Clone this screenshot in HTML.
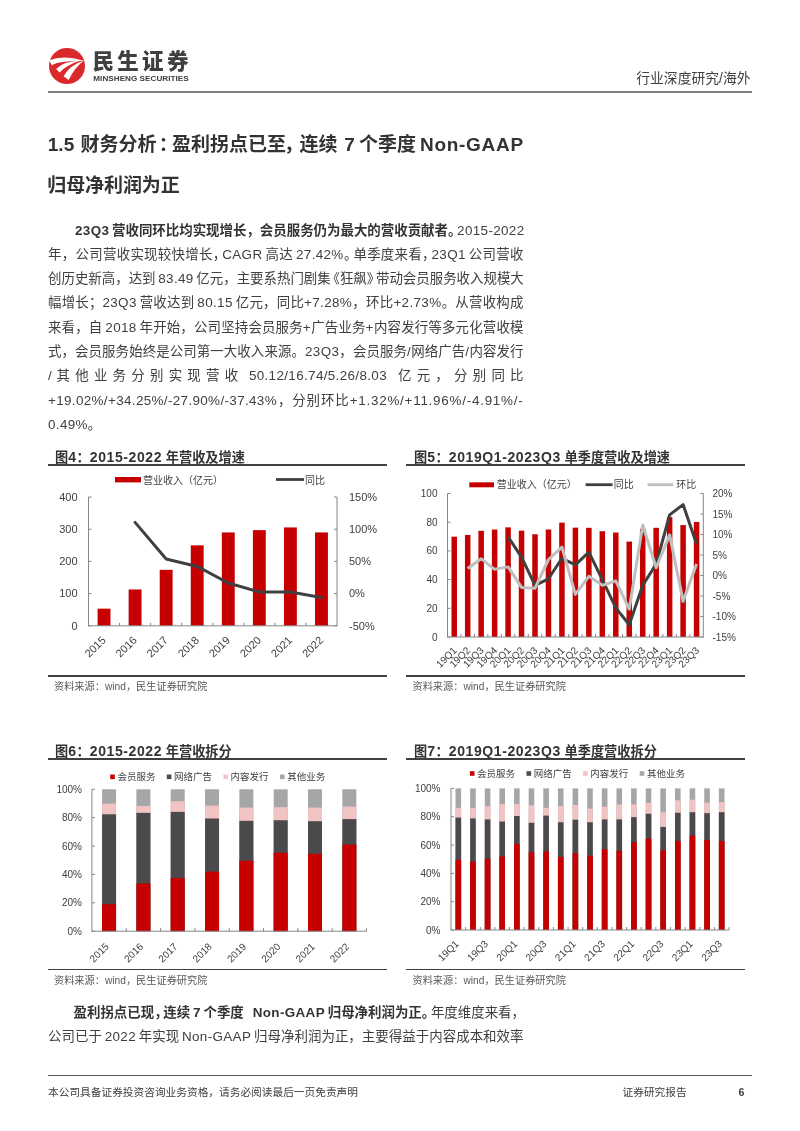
<!DOCTYPE html>
<html lang="zh-CN">
<head>
<meta charset="utf-8">
<title>民生证券 行业深度研究</title>
<style>
*{margin:0;padding:0;box-sizing:border-box}
html,body{width:800px;height:1131px;background:#fff;overflow:hidden}
body{position:relative;font-family:"Liberation Sans","Noto Sans CJK SC",sans-serif;color:#404040}
.abs{position:absolute;white-space:nowrap}
.hdr-line{position:absolute;left:48px;top:91px;width:704px;height:1.6px;background:#808080}
.brand{position:absolute;left:92.5px;top:52px;font-size:21.5px;font-weight:900;color:#404040;letter-spacing:3.3px;line-height:1}
.brand-en{position:absolute;left:93.3px;top:75px;font-size:8.1px;font-weight:bold;color:#3c3c3c;letter-spacing:0.05px;line-height:1}
.hdr-right{position:absolute;right:49.5px;top:71.5px;font-size:13.8px;color:#404040;line-height:1}
.h1{position:absolute;left:48.5px;font-size:19px;font-weight:bold;color:#333;line-height:1;white-space:nowrap}
.p{position:absolute;left:48px;width:475.5px;font-size:13.44px;line-height:1;word-spacing:-1px;color:#404040;text-align:justify;text-align-last:justify;white-space:nowrap}
.p.l{text-align:left;text-align-last:left}
.p b{font-weight:bold;color:#333}
.n{letter-spacing:0.35px}
.lq{margin-left:-4.3px}
.rq{margin-right:-4.3px}
.ft{position:absolute;font-size:13.2px;font-weight:bold;color:#333;line-height:1;white-space:nowrap}
.fn{letter-spacing:0.6px;font-size:14px}
.fl{position:absolute;height:1.6px;background:#404040}
.src{position:absolute;font-size:10.2px;color:#595959;line-height:1;white-space:nowrap}
.foot-line{position:absolute;left:48px;top:1074.6px;width:704px;height:1.4px;background:#595959}
.foot{position:absolute;top:1087px;font-size:10.7px;color:#404040;line-height:1;white-space:nowrap}
svg.charts{position:absolute;left:0;top:0}
.p,.h1,.ft,.src,.foot,.hdr-right,.brand,.brand-en{filter:grayscale(1)}
svg.charts text{font-family:"Liberation Sans","Noto Sans CJK SC",sans-serif;filter:grayscale(1)}
</style>
</head>
<body>
<!-- logo -->
<svg class="abs" style="left:49.3px;top:47.7px" width="36" height="36" viewBox="0 0 36 36">
<circle cx="18" cy="18" r="18" fill="#da282b"/>
<path d="M0.2,12.2 Q14.2,6.6 35.4,12.9 Q7,12.6 2.9,17.6 Z" fill="#fff"/>
<path d="M7,20.9 Q14.6,13.3 30.8,12.8 Q18.6,16.6 10.6,24.4 Z" fill="#fff"/>
<path d="M14.6,28.3 Q20.6,17.2 35,12.6 Q26.2,19 19.6,32 Z" fill="#fff"/>
</svg>
<div class="brand">民生证券</div>
<div class="brand-en">MINSHENG SECURITIES</div>
<div class="hdr-right">行业深度研究/海外</div>
<div class="hdr-line"></div>

<div class="h1" style="top:134.5px;left:47.8px">1.5</div>
<div class="h1" style="top:134.5px;left:80.5px">财务分析</div>
<div class="h1" style="top:134.5px;left:158.7px">：</div>
<div class="h1" style="top:134.5px;left:171.9px">盈利拐点已至</div>
<div class="h1" style="top:134.5px;left:284px">，</div>
<div class="h1" style="top:134.5px;left:299.5px">连续</div>
<div class="h1" style="top:134.5px;left:344.2px">7</div>
<div class="h1" style="top:134.5px;left:359px">个季度</div>
<div class="h1" style="top:134.5px;left:420px"><span style="letter-spacing:0.7px">Non-GAAP</span></div>
<div class="h1" style="top:175.5px;left:47.3px;letter-spacing:-0.1px">归母净利润为正</div>

<div class="p" style="top:223.50px;left:75px;width:448.5px"><b><span class="n">23Q3</span> 营收同环比均实现增长，会员服务仍为最大的营收贡献者<span class="rq">。</span></b><span class="n">2015-2022</span></div>
<div class="p" style="top:247.80px;left:48px;width:475.5px">年，公司营收实现较快增长<span class="rq">，</span><span class="n">CAGR</span> 高达 <span class="n">27.42%</span><span class="rq">。</span>单季度来看<span class="rq">，</span><span class="n">23Q1</span> 公司营收</div>
<div class="p" style="top:272.10px;left:48px;width:475.5px">创历史新高，达到 <span class="n">83.49</span> 亿元，主要系热门剧集<span class="lq">《</span>狂飙<span class="rq">》</span>带动会员服务收入规模大</div>
<div class="p" style="top:296.40px;left:48px;width:475.5px">幅增长；<span class="n">23Q3</span> 营收达到 <span class="n">80.15</span> 亿元，同比<span class="n">+7.28%</span>，环比<span class="n">+2.73%</span>。从营收构成</div>
<div class="p" style="top:320.70px;left:48px;width:475.5px">来看，自 <span class="n">2018</span> 年开始，公司坚持会员服务<span class="n">+</span>广告业务<span class="n">+</span>内容发行等多元化营收模</div>
<div class="p" style="top:345.00px;left:48px;width:475.5px">式，会员服务始终是公司第一大收入来源。<span class="n">23Q3</span>，会员服务<span class="n">/</span>网络广告<span class="n">/</span>内容发行</div>
<div class="p" style="top:369.30px;left:48px;width:475.5px"><span class="n">/</span><span style="margin-left:-3.5px"> </span>其他业务分别实现营收<span style="margin-left:-2.5px"> </span><span class="n">50.12/16.74/5.26/8.03</span><span style="margin-right:3px"> </span>亿元，分别同比</div>
<div class="p" style="top:393.60px;left:48px;width:475.5px"><span class="n">+19.02%/+34.25%/-27.90%/-37.43%</span>，分别环比<span class="n" style="letter-spacing:0.75px">+1.32%/+11.96%/-4.91%/-</span></div>
<div class="p l" style="top:417.90px;left:48px;width:475.5px"><span class="n">0.49%</span>。</div>

<!-- figure titles -->
<div class="ft" style="left:55px;top:450.2px">图<span class="fn">4</span>：<span class="fn">2015-2022</span> 年营收及增速</div>
<div class="ft" style="left:414px;top:450.2px">图<span class="fn">5</span>：<span class="fn">2019Q1-2023Q3</span> 单季度营收及增速</div>
<div class="fl" style="left:48px;top:464.2px;width:339px"></div>
<div class="fl" style="left:406px;top:464.2px;width:339px"></div>
<div class="fl" style="left:48px;top:675px;width:339px"></div>
<div class="fl" style="left:406px;top:675px;width:339px"></div>
<div class="src" style="left:54px;top:681.7px">资料来源：wind，民生证券研究院</div>
<div class="src" style="left:412.5px;top:681.7px">资料来源：wind，民生证券研究院</div>

<div class="ft" style="left:55px;top:744px">图<span class="fn">6</span>：<span class="fn">2015-2022</span> 年营收拆分</div>
<div class="ft" style="left:414px;top:744px">图<span class="fn">7</span>：<span class="fn">2019Q1-2023Q3</span> 单季度营收拆分</div>
<div class="fl" style="left:48px;top:758px;width:339px"></div>
<div class="fl" style="left:406px;top:758px;width:339px"></div>
<div class="fl" style="left:48px;top:968.6px;width:339px"></div>
<div class="fl" style="left:406px;top:968.6px;width:339px"></div>
<div class="src" style="left:54px;top:975.7px">资料来源：wind，民生证券研究院</div>
<div class="src" style="left:412.5px;top:975.7px">资料来源：wind，民生证券研究院</div>

<svg class="charts" width="800" height="1131" viewBox="0 0 800 1131">
<rect x="97.58" y="608.67" width="12.9" height="17.13" fill="#c60000"/>
<rect x="128.64" y="589.48" width="12.9" height="36.32" fill="#c60000"/>
<rect x="159.71" y="569.84" width="12.9" height="55.96" fill="#c60000"/>
<rect x="190.77" y="545.33" width="12.9" height="80.47" fill="#c60000"/>
<rect x="221.83" y="532.45" width="12.9" height="93.35" fill="#c60000"/>
<rect x="252.89" y="530.13" width="12.9" height="95.67" fill="#c60000"/>
<rect x="283.96" y="527.43" width="12.9" height="98.37" fill="#c60000"/>
<rect x="315.02" y="532.42" width="12.9" height="93.38" fill="#c60000"/>
<path d="M135.09,522.37 L166.16,559.02 L197.22,566.42 L228.28,582.97 L259.34,591.99 L290.41,591.99 L321.47,597.46" fill="none" stroke="#404040" stroke-width="3" stroke-linejoin="round" stroke-linecap="round"/>
<line x1="88.5" y1="497" x2="88.5" y2="626.3" stroke="#868686" stroke-width="1"/>
<line x1="337" y1="497" x2="337" y2="626.3" stroke="#868686" stroke-width="1"/>
<line x1="88.5" y1="625.8" x2="337" y2="625.8" stroke="#868686" stroke-width="1"/>
<line x1="88.5" y1="497" x2="91.5" y2="497" stroke="#868686" stroke-width="1"/>
<line x1="334" y1="497" x2="337" y2="497" stroke="#868686" stroke-width="1"/>
<text x="77.5" y="500.8" font-size="11" fill="#404040" text-anchor="end" font-weight="normal" >400</text>
<text x="349" y="500.8" font-size="11" fill="#404040" text-anchor="start" font-weight="normal" >150%</text>
<line x1="88.5" y1="529.2" x2="91.5" y2="529.2" stroke="#868686" stroke-width="1"/>
<line x1="334" y1="529.2" x2="337" y2="529.2" stroke="#868686" stroke-width="1"/>
<text x="77.5" y="533" font-size="11" fill="#404040" text-anchor="end" font-weight="normal" >300</text>
<text x="349" y="533" font-size="11" fill="#404040" text-anchor="start" font-weight="normal" >100%</text>
<line x1="88.5" y1="561.4" x2="91.5" y2="561.4" stroke="#868686" stroke-width="1"/>
<line x1="334" y1="561.4" x2="337" y2="561.4" stroke="#868686" stroke-width="1"/>
<text x="77.5" y="565.2" font-size="11" fill="#404040" text-anchor="end" font-weight="normal" >200</text>
<text x="349" y="565.2" font-size="11" fill="#404040" text-anchor="start" font-weight="normal" >50%</text>
<line x1="88.5" y1="593.6" x2="91.5" y2="593.6" stroke="#868686" stroke-width="1"/>
<line x1="334" y1="593.6" x2="337" y2="593.6" stroke="#868686" stroke-width="1"/>
<text x="77.5" y="597.4" font-size="11" fill="#404040" text-anchor="end" font-weight="normal" >100</text>
<text x="349" y="597.4" font-size="11" fill="#404040" text-anchor="start" font-weight="normal" >0%</text>
<line x1="88.5" y1="625.8" x2="91.5" y2="625.8" stroke="#868686" stroke-width="1"/>
<line x1="334" y1="625.8" x2="337" y2="625.8" stroke="#868686" stroke-width="1"/>
<text x="77.5" y="629.6" font-size="11" fill="#404040" text-anchor="end" font-weight="normal" >0</text>
<text x="349" y="629.6" font-size="11" fill="#404040" text-anchor="start" font-weight="normal" >-50%</text>
<line x1="119.56" y1="622.8" x2="119.56" y2="625.8" stroke="#868686" stroke-width="1"/>
<line x1="150.62" y1="622.8" x2="150.62" y2="625.8" stroke="#868686" stroke-width="1"/>
<line x1="181.69" y1="622.8" x2="181.69" y2="625.8" stroke="#868686" stroke-width="1"/>
<line x1="212.75" y1="622.8" x2="212.75" y2="625.8" stroke="#868686" stroke-width="1"/>
<line x1="243.81" y1="622.8" x2="243.81" y2="625.8" stroke="#868686" stroke-width="1"/>
<line x1="274.88" y1="622.8" x2="274.88" y2="625.8" stroke="#868686" stroke-width="1"/>
<line x1="305.94" y1="622.8" x2="305.94" y2="625.8" stroke="#868686" stroke-width="1"/>
<text x="0" y="0" font-size="11" fill="#404040" text-anchor="end" transform="translate(106.53,640.8) rotate(-45)">2015</text>
<text x="0" y="0" font-size="11" fill="#404040" text-anchor="end" transform="translate(137.59,640.8) rotate(-45)">2016</text>
<text x="0" y="0" font-size="11" fill="#404040" text-anchor="end" transform="translate(168.66,640.8) rotate(-45)">2017</text>
<text x="0" y="0" font-size="11" fill="#404040" text-anchor="end" transform="translate(199.72,640.8) rotate(-45)">2018</text>
<text x="0" y="0" font-size="11" fill="#404040" text-anchor="end" transform="translate(230.78,640.8) rotate(-45)">2019</text>
<text x="0" y="0" font-size="11" fill="#404040" text-anchor="end" transform="translate(261.84,640.8) rotate(-45)">2020</text>
<text x="0" y="0" font-size="11" fill="#404040" text-anchor="end" transform="translate(292.91,640.8) rotate(-45)">2021</text>
<text x="0" y="0" font-size="11" fill="#404040" text-anchor="end" transform="translate(323.97,640.8) rotate(-45)">2022</text>
<rect x="115" y="477" width="26" height="5.4" fill="#c60000"/>
<text x="143" y="483.8" font-size="10" fill="#404040" text-anchor="start" font-weight="normal" >营业收入（亿元）</text>
<line x1="276" y1="479.5" x2="304" y2="479.5" stroke="#404040" stroke-width="2.8"/>
<text x="305" y="483.8" font-size="10" fill="#404040" text-anchor="start" font-weight="normal" >同比</text>
<rect x="451.48" y="536.69" width="5.5" height="100.31" fill="#c60000"/>
<rect x="464.94" y="534.97" width="5.5" height="102.03" fill="#c60000"/>
<rect x="478.41" y="530.81" width="5.5" height="106.19" fill="#c60000"/>
<rect x="491.87" y="529.52" width="5.5" height="107.48" fill="#c60000"/>
<rect x="505.33" y="527.37" width="5.5" height="109.63" fill="#c60000"/>
<rect x="518.8" y="530.67" width="5.5" height="106.33" fill="#c60000"/>
<rect x="532.26" y="534.25" width="5.5" height="102.75" fill="#c60000"/>
<rect x="545.72" y="529.52" width="5.5" height="107.48" fill="#c60000"/>
<rect x="559.19" y="522.63" width="5.5" height="114.37" fill="#c60000"/>
<rect x="572.65" y="527.65" width="5.5" height="109.35" fill="#c60000"/>
<rect x="586.11" y="527.8" width="5.5" height="109.2" fill="#c60000"/>
<rect x="599.58" y="531.24" width="5.5" height="105.76" fill="#c60000"/>
<rect x="613.04" y="532.53" width="5.5" height="104.47" fill="#c60000"/>
<rect x="626.5" y="541.57" width="5.5" height="95.43" fill="#c60000"/>
<rect x="639.97" y="528.8" width="5.5" height="108.2" fill="#c60000"/>
<rect x="653.43" y="527.8" width="5.5" height="109.2" fill="#c60000"/>
<rect x="666.89" y="517.18" width="5.5" height="119.82" fill="#c60000"/>
<rect x="680.36" y="525.07" width="5.5" height="111.93" fill="#c60000"/>
<rect x="693.82" y="521.91" width="5.5" height="115.09" fill="#c60000"/>
<path d="M508.08,536.96 L521.55,557.05 L535.01,585.34 L548.47,578.78 L561.94,558.28 L575.4,564.84 L588.86,552.13 L602.33,579.6 L615.79,607.89 L629.25,624.7 L642.72,585.34 L656.18,564.02 L669.64,514.82 L683.11,504.57 L696.57,543.93" fill="none" stroke="#404040" stroke-width="3" stroke-linejoin="round"/>
<path d="M467.69,568.53 L481.16,558.69 L494.62,569.35 L508.08,566.89 L521.55,587.39 L535.01,588.21 L548.47,559.51 L561.94,547.21 L575.4,594.36 L588.86,576.32 L602.33,585.34 L615.79,580.83 L629.25,609.12 L642.72,525.07 L656.18,567.71 L669.64,534.91 L683.11,601.33 L696.57,564.02" fill="none" stroke="#bfbfbf" stroke-width="3" stroke-linejoin="round"/>
<line x1="447.5" y1="493.5" x2="447.5" y2="637.5" stroke="#868686" stroke-width="1"/>
<line x1="703.3" y1="493.5" x2="703.3" y2="637.5" stroke="#868686" stroke-width="1"/>
<line x1="447.5" y1="637" x2="703.3" y2="637" stroke="#868686" stroke-width="1"/>
<line x1="447.5" y1="493.5" x2="450.5" y2="493.5" stroke="#868686" stroke-width="1"/>
<text x="437.5" y="497" font-size="10" fill="#404040" text-anchor="end" font-weight="normal" >100</text>
<line x1="447.5" y1="522.2" x2="450.5" y2="522.2" stroke="#868686" stroke-width="1"/>
<text x="437.5" y="525.7" font-size="10" fill="#404040" text-anchor="end" font-weight="normal" >80</text>
<line x1="447.5" y1="550.9" x2="450.5" y2="550.9" stroke="#868686" stroke-width="1"/>
<text x="437.5" y="554.4" font-size="10" fill="#404040" text-anchor="end" font-weight="normal" >60</text>
<line x1="447.5" y1="579.6" x2="450.5" y2="579.6" stroke="#868686" stroke-width="1"/>
<text x="437.5" y="583.1" font-size="10" fill="#404040" text-anchor="end" font-weight="normal" >40</text>
<line x1="447.5" y1="608.3" x2="450.5" y2="608.3" stroke="#868686" stroke-width="1"/>
<text x="437.5" y="611.8" font-size="10" fill="#404040" text-anchor="end" font-weight="normal" >20</text>
<line x1="447.5" y1="637" x2="450.5" y2="637" stroke="#868686" stroke-width="1"/>
<text x="437.5" y="640.5" font-size="10" fill="#404040" text-anchor="end" font-weight="normal" >0</text>
<line x1="700.3" y1="493.5" x2="703.3" y2="493.5" stroke="#868686" stroke-width="1"/>
<text x="712.5" y="497" font-size="10" fill="#404040" text-anchor="start" font-weight="normal" >20%</text>
<line x1="700.3" y1="514" x2="703.3" y2="514" stroke="#868686" stroke-width="1"/>
<text x="712.5" y="517.5" font-size="10" fill="#404040" text-anchor="start" font-weight="normal" >15%</text>
<line x1="700.3" y1="534.5" x2="703.3" y2="534.5" stroke="#868686" stroke-width="1"/>
<text x="712.5" y="538" font-size="10" fill="#404040" text-anchor="start" font-weight="normal" >10%</text>
<line x1="700.3" y1="555" x2="703.3" y2="555" stroke="#868686" stroke-width="1"/>
<text x="712.5" y="558.5" font-size="10" fill="#404040" text-anchor="start" font-weight="normal" >5%</text>
<line x1="700.3" y1="575.5" x2="703.3" y2="575.5" stroke="#868686" stroke-width="1"/>
<text x="712.5" y="579" font-size="10" fill="#404040" text-anchor="start" font-weight="normal" >0%</text>
<line x1="700.3" y1="596" x2="703.3" y2="596" stroke="#868686" stroke-width="1"/>
<text x="712.5" y="599.5" font-size="10" fill="#404040" text-anchor="start" font-weight="normal" >-5%</text>
<line x1="700.3" y1="616.5" x2="703.3" y2="616.5" stroke="#868686" stroke-width="1"/>
<text x="712.5" y="620" font-size="10" fill="#404040" text-anchor="start" font-weight="normal" >-10%</text>
<line x1="700.3" y1="637" x2="703.3" y2="637" stroke="#868686" stroke-width="1"/>
<text x="712.5" y="640.5" font-size="10" fill="#404040" text-anchor="start" font-weight="normal" >-15%</text>
<line x1="460.96" y1="634" x2="460.96" y2="637" stroke="#868686" stroke-width="1"/>
<line x1="474.43" y1="634" x2="474.43" y2="637" stroke="#868686" stroke-width="1"/>
<line x1="487.89" y1="634" x2="487.89" y2="637" stroke="#868686" stroke-width="1"/>
<line x1="501.35" y1="634" x2="501.35" y2="637" stroke="#868686" stroke-width="1"/>
<line x1="514.82" y1="634" x2="514.82" y2="637" stroke="#868686" stroke-width="1"/>
<line x1="528.28" y1="634" x2="528.28" y2="637" stroke="#868686" stroke-width="1"/>
<line x1="541.74" y1="634" x2="541.74" y2="637" stroke="#868686" stroke-width="1"/>
<line x1="555.21" y1="634" x2="555.21" y2="637" stroke="#868686" stroke-width="1"/>
<line x1="568.67" y1="634" x2="568.67" y2="637" stroke="#868686" stroke-width="1"/>
<line x1="582.13" y1="634" x2="582.13" y2="637" stroke="#868686" stroke-width="1"/>
<line x1="595.59" y1="634" x2="595.59" y2="637" stroke="#868686" stroke-width="1"/>
<line x1="609.06" y1="634" x2="609.06" y2="637" stroke="#868686" stroke-width="1"/>
<line x1="622.52" y1="634" x2="622.52" y2="637" stroke="#868686" stroke-width="1"/>
<line x1="635.98" y1="634" x2="635.98" y2="637" stroke="#868686" stroke-width="1"/>
<line x1="649.45" y1="634" x2="649.45" y2="637" stroke="#868686" stroke-width="1"/>
<line x1="662.91" y1="634" x2="662.91" y2="637" stroke="#868686" stroke-width="1"/>
<line x1="676.37" y1="634" x2="676.37" y2="637" stroke="#868686" stroke-width="1"/>
<line x1="689.84" y1="634" x2="689.84" y2="637" stroke="#868686" stroke-width="1"/>
<text x="0" y="0" font-size="10" fill="#404040" text-anchor="end" transform="translate(457.53,651) rotate(-45)">19Q1</text>
<text x="0" y="0" font-size="10" fill="#404040" text-anchor="end" transform="translate(470.99,651) rotate(-45)">19Q2</text>
<text x="0" y="0" font-size="10" fill="#404040" text-anchor="end" transform="translate(484.46,651) rotate(-45)">19Q3</text>
<text x="0" y="0" font-size="10" fill="#404040" text-anchor="end" transform="translate(497.92,651) rotate(-45)">19Q4</text>
<text x="0" y="0" font-size="10" fill="#404040" text-anchor="end" transform="translate(511.38,651) rotate(-45)">20Q1</text>
<text x="0" y="0" font-size="10" fill="#404040" text-anchor="end" transform="translate(524.85,651) rotate(-45)">20Q2</text>
<text x="0" y="0" font-size="10" fill="#404040" text-anchor="end" transform="translate(538.31,651) rotate(-45)">20Q3</text>
<text x="0" y="0" font-size="10" fill="#404040" text-anchor="end" transform="translate(551.77,651) rotate(-45)">20Q4</text>
<text x="0" y="0" font-size="10" fill="#404040" text-anchor="end" transform="translate(565.24,651) rotate(-45)">21Q1</text>
<text x="0" y="0" font-size="10" fill="#404040" text-anchor="end" transform="translate(578.7,651) rotate(-45)">21Q2</text>
<text x="0" y="0" font-size="10" fill="#404040" text-anchor="end" transform="translate(592.16,651) rotate(-45)">21Q3</text>
<text x="0" y="0" font-size="10" fill="#404040" text-anchor="end" transform="translate(605.63,651) rotate(-45)">21Q4</text>
<text x="0" y="0" font-size="10" fill="#404040" text-anchor="end" transform="translate(619.09,651) rotate(-45)">22Q1</text>
<text x="0" y="0" font-size="10" fill="#404040" text-anchor="end" transform="translate(632.55,651) rotate(-45)">22Q2</text>
<text x="0" y="0" font-size="10" fill="#404040" text-anchor="end" transform="translate(646.02,651) rotate(-45)">22Q3</text>
<text x="0" y="0" font-size="10" fill="#404040" text-anchor="end" transform="translate(659.48,651) rotate(-45)">22Q4</text>
<text x="0" y="0" font-size="10" fill="#404040" text-anchor="end" transform="translate(672.94,651) rotate(-45)">23Q1</text>
<text x="0" y="0" font-size="10" fill="#404040" text-anchor="end" transform="translate(686.41,651) rotate(-45)">23Q2</text>
<text x="0" y="0" font-size="10" fill="#404040" text-anchor="end" transform="translate(699.87,651) rotate(-45)">23Q3</text>
<rect x="469.3" y="482.3" width="24.7" height="5" fill="#c60000"/>
<text x="496.7" y="487.9" font-size="10" fill="#404040" text-anchor="start" font-weight="normal" >营业收入（亿元）</text>
<line x1="585.6" y1="484.7" x2="612.6" y2="484.7" stroke="#404040" stroke-width="2.8"/>
<text x="613.7" y="487.9" font-size="10" fill="#404040" text-anchor="start" font-weight="normal" >同比</text>
<line x1="647.5" y1="484.7" x2="673.4" y2="484.7" stroke="#bfbfbf" stroke-width="2.8"/>
<text x="676.3" y="487.9" font-size="10" fill="#404040" text-anchor="start" font-weight="normal" >环比</text>
<rect x="102.06" y="789.3" width="14" height="141.9" fill="#a6a6a6"/>
<rect x="102.06" y="803.63" width="14" height="127.57" fill="#f1c3c3"/>
<rect x="102.06" y="814.27" width="14" height="116.93" fill="#4a4a4c"/>
<rect x="102.06" y="904.24" width="14" height="26.96" fill="#c60000"/>
<rect x="136.39" y="789.3" width="14" height="141.9" fill="#a6a6a6"/>
<rect x="136.39" y="805.9" width="14" height="125.3" fill="#f1c3c3"/>
<rect x="136.39" y="812.86" width="14" height="118.34" fill="#4a4a4c"/>
<rect x="136.39" y="883.38" width="14" height="47.82" fill="#c60000"/>
<rect x="170.71" y="789.3" width="14" height="141.9" fill="#a6a6a6"/>
<rect x="170.71" y="801.22" width="14" height="129.98" fill="#f1c3c3"/>
<rect x="170.71" y="811.86" width="14" height="119.34" fill="#4a4a4c"/>
<rect x="170.71" y="877.99" width="14" height="53.21" fill="#c60000"/>
<rect x="205.04" y="789.3" width="14" height="141.9" fill="#a6a6a6"/>
<rect x="205.04" y="805.62" width="14" height="125.58" fill="#f1c3c3"/>
<rect x="205.04" y="818.53" width="14" height="112.67" fill="#4a4a4c"/>
<rect x="205.04" y="871.6" width="14" height="59.6" fill="#c60000"/>
<rect x="239.36" y="789.3" width="14" height="141.9" fill="#a6a6a6"/>
<rect x="239.36" y="807.61" width="14" height="123.59" fill="#f1c3c3"/>
<rect x="239.36" y="820.8" width="14" height="110.4" fill="#4a4a4c"/>
<rect x="239.36" y="860.68" width="14" height="70.52" fill="#c60000"/>
<rect x="273.69" y="789.3" width="14" height="141.9" fill="#a6a6a6"/>
<rect x="273.69" y="807.18" width="14" height="124.02" fill="#f1c3c3"/>
<rect x="273.69" y="820.23" width="14" height="110.97" fill="#4a4a4c"/>
<rect x="273.69" y="852.73" width="14" height="78.47" fill="#c60000"/>
<rect x="308.01" y="789.3" width="14" height="141.9" fill="#a6a6a6"/>
<rect x="308.01" y="807.61" width="14" height="123.59" fill="#f1c3c3"/>
<rect x="308.01" y="821.23" width="14" height="109.97" fill="#4a4a4c"/>
<rect x="308.01" y="853.72" width="14" height="77.48" fill="#c60000"/>
<rect x="342.34" y="789.3" width="14" height="141.9" fill="#a6a6a6"/>
<rect x="342.34" y="806.61" width="14" height="124.59" fill="#f1c3c3"/>
<rect x="342.34" y="819.1" width="14" height="112.1" fill="#4a4a4c"/>
<rect x="342.34" y="844.5" width="14" height="86.7" fill="#c60000"/>
<line x1="91.9" y1="789.3" x2="91.9" y2="931.7" stroke="#868686" stroke-width="1"/>
<line x1="91.9" y1="931.2" x2="366.5" y2="931.2" stroke="#868686" stroke-width="1"/>
<line x1="91.9" y1="789.3" x2="94.9" y2="789.3" stroke="#868686" stroke-width="1"/>
<text x="82" y="792.9" font-size="10" fill="#404040" text-anchor="end" font-weight="normal" >100%</text>
<line x1="91.9" y1="817.68" x2="94.9" y2="817.68" stroke="#868686" stroke-width="1"/>
<text x="82" y="821.28" font-size="10" fill="#404040" text-anchor="end" font-weight="normal" >80%</text>
<line x1="91.9" y1="846.06" x2="94.9" y2="846.06" stroke="#868686" stroke-width="1"/>
<text x="82" y="849.66" font-size="10" fill="#404040" text-anchor="end" font-weight="normal" >60%</text>
<line x1="91.9" y1="874.44" x2="94.9" y2="874.44" stroke="#868686" stroke-width="1"/>
<text x="82" y="878.04" font-size="10" fill="#404040" text-anchor="end" font-weight="normal" >40%</text>
<line x1="91.9" y1="902.82" x2="94.9" y2="902.82" stroke="#868686" stroke-width="1"/>
<text x="82" y="906.42" font-size="10" fill="#404040" text-anchor="end" font-weight="normal" >20%</text>
<line x1="91.9" y1="931.2" x2="94.9" y2="931.2" stroke="#868686" stroke-width="1"/>
<text x="82" y="934.8" font-size="10" fill="#404040" text-anchor="end" font-weight="normal" >0%</text>
<line x1="126.23" y1="928.2" x2="126.23" y2="931.2" stroke="#868686" stroke-width="1"/>
<line x1="160.55" y1="928.2" x2="160.55" y2="931.2" stroke="#868686" stroke-width="1"/>
<line x1="194.88" y1="928.2" x2="194.88" y2="931.2" stroke="#868686" stroke-width="1"/>
<line x1="229.2" y1="928.2" x2="229.2" y2="931.2" stroke="#868686" stroke-width="1"/>
<line x1="263.52" y1="928.2" x2="263.52" y2="931.2" stroke="#868686" stroke-width="1"/>
<line x1="297.85" y1="928.2" x2="297.85" y2="931.2" stroke="#868686" stroke-width="1"/>
<line x1="332.18" y1="928.2" x2="332.18" y2="931.2" stroke="#868686" stroke-width="1"/>
<line x1="366.5" y1="928.2" x2="366.5" y2="931.2" stroke="#868686" stroke-width="1"/>
<text x="0" y="0" font-size="10" fill="#404040" text-anchor="end" transform="translate(109.56,947.2) rotate(-45)">2015</text>
<text x="0" y="0" font-size="10" fill="#404040" text-anchor="end" transform="translate(143.89,947.2) rotate(-45)">2016</text>
<text x="0" y="0" font-size="10" fill="#404040" text-anchor="end" transform="translate(178.21,947.2) rotate(-45)">2017</text>
<text x="0" y="0" font-size="10" fill="#404040" text-anchor="end" transform="translate(212.54,947.2) rotate(-45)">2018</text>
<text x="0" y="0" font-size="10" fill="#404040" text-anchor="end" transform="translate(246.86,947.2) rotate(-45)">2019</text>
<text x="0" y="0" font-size="10" fill="#404040" text-anchor="end" transform="translate(281.19,947.2) rotate(-45)">2020</text>
<text x="0" y="0" font-size="10" fill="#404040" text-anchor="end" transform="translate(315.51,947.2) rotate(-45)">2021</text>
<text x="0" y="0" font-size="10" fill="#404040" text-anchor="end" transform="translate(349.84,947.2) rotate(-45)">2022</text>
<rect x="110.2" y="774.5" width="4.6" height="4.6" fill="#c60000"/>
<text x="117.4" y="780.2" font-size="9.5" fill="#404040" text-anchor="start" font-weight="normal" >会员服务</text>
<rect x="166.8" y="774.5" width="4.6" height="4.6" fill="#4a4a4c"/>
<text x="174" y="780.2" font-size="9.5" fill="#404040" text-anchor="start" font-weight="normal" >网络广告</text>
<rect x="223.4" y="774.5" width="4.6" height="4.6" fill="#f1c3c3"/>
<text x="230.6" y="780.2" font-size="9.5" fill="#404040" text-anchor="start" font-weight="normal" >内容发行</text>
<rect x="280" y="774.5" width="4.6" height="4.6" fill="#a6a6a6"/>
<text x="287.2" y="780.2" font-size="9.5" fill="#404040" text-anchor="start" font-weight="normal" >其他业务</text>
<rect x="455.52" y="788.4" width="5.6" height="141.6" fill="#a6a6a6"/>
<rect x="455.52" y="807.8" width="5.6" height="122.2" fill="#f1c3c3"/>
<rect x="455.52" y="817.57" width="5.6" height="112.43" fill="#4a4a4c"/>
<rect x="455.52" y="859.77" width="5.6" height="70.23" fill="#c60000"/>
<rect x="470.15" y="788.4" width="5.6" height="141.6" fill="#a6a6a6"/>
<rect x="470.15" y="807.8" width="5.6" height="122.2" fill="#f1c3c3"/>
<rect x="470.15" y="818.42" width="5.6" height="111.58" fill="#4a4a4c"/>
<rect x="470.15" y="861.61" width="5.6" height="68.39" fill="#c60000"/>
<rect x="484.78" y="788.4" width="5.6" height="141.6" fill="#a6a6a6"/>
<rect x="484.78" y="806.24" width="5.6" height="123.76" fill="#f1c3c3"/>
<rect x="484.78" y="819.41" width="5.6" height="110.59" fill="#4a4a4c"/>
<rect x="484.78" y="858.78" width="5.6" height="71.22" fill="#c60000"/>
<rect x="499.41" y="788.4" width="5.6" height="141.6" fill="#a6a6a6"/>
<rect x="499.41" y="803.98" width="5.6" height="126.02" fill="#f1c3c3"/>
<rect x="499.41" y="821.53" width="5.6" height="108.47" fill="#4a4a4c"/>
<rect x="499.41" y="856.51" width="5.6" height="73.49" fill="#c60000"/>
<rect x="514.04" y="788.4" width="5.6" height="141.6" fill="#a6a6a6"/>
<rect x="514.04" y="803.98" width="5.6" height="126.02" fill="#f1c3c3"/>
<rect x="514.04" y="816.01" width="5.6" height="113.99" fill="#4a4a4c"/>
<rect x="514.04" y="843.77" width="5.6" height="86.23" fill="#c60000"/>
<rect x="528.67" y="788.4" width="5.6" height="141.6" fill="#a6a6a6"/>
<rect x="528.67" y="805.25" width="5.6" height="124.75" fill="#f1c3c3"/>
<rect x="528.67" y="822.81" width="5.6" height="107.19" fill="#4a4a4c"/>
<rect x="528.67" y="852.26" width="5.6" height="77.74" fill="#c60000"/>
<rect x="543.31" y="788.4" width="5.6" height="141.6" fill="#a6a6a6"/>
<rect x="543.31" y="807.8" width="5.6" height="122.2" fill="#f1c3c3"/>
<rect x="543.31" y="815.59" width="5.6" height="114.41" fill="#4a4a4c"/>
<rect x="543.31" y="851.27" width="5.6" height="78.73" fill="#c60000"/>
<rect x="557.94" y="788.4" width="5.6" height="141.6" fill="#a6a6a6"/>
<rect x="557.94" y="805.96" width="5.6" height="124.04" fill="#f1c3c3"/>
<rect x="557.94" y="822.24" width="5.6" height="107.76" fill="#4a4a4c"/>
<rect x="557.94" y="856.93" width="5.6" height="73.07" fill="#c60000"/>
<rect x="572.57" y="788.4" width="5.6" height="141.6" fill="#a6a6a6"/>
<rect x="572.57" y="804.97" width="5.6" height="125.03" fill="#f1c3c3"/>
<rect x="572.57" y="819.69" width="5.6" height="110.31" fill="#4a4a4c"/>
<rect x="572.57" y="853.11" width="5.6" height="76.89" fill="#c60000"/>
<rect x="587.2" y="788.4" width="5.6" height="141.6" fill="#a6a6a6"/>
<rect x="587.2" y="808.65" width="5.6" height="121.35" fill="#f1c3c3"/>
<rect x="587.2" y="822.24" width="5.6" height="107.76" fill="#4a4a4c"/>
<rect x="587.2" y="855.66" width="5.6" height="74.34" fill="#c60000"/>
<rect x="601.83" y="788.4" width="5.6" height="141.6" fill="#a6a6a6"/>
<rect x="601.83" y="806.81" width="5.6" height="123.19" fill="#f1c3c3"/>
<rect x="601.83" y="819.41" width="5.6" height="110.59" fill="#4a4a4c"/>
<rect x="601.83" y="849.43" width="5.6" height="80.57" fill="#c60000"/>
<rect x="616.46" y="788.4" width="5.6" height="141.6" fill="#a6a6a6"/>
<rect x="616.46" y="804.4" width="5.6" height="125.6" fill="#f1c3c3"/>
<rect x="616.46" y="819.41" width="5.6" height="110.59" fill="#4a4a4c"/>
<rect x="616.46" y="850.85" width="5.6" height="79.15" fill="#c60000"/>
<rect x="631.09" y="788.4" width="5.6" height="141.6" fill="#a6a6a6"/>
<rect x="631.09" y="804.4" width="5.6" height="125.6" fill="#f1c3c3"/>
<rect x="631.09" y="817.14" width="5.6" height="112.86" fill="#4a4a4c"/>
<rect x="631.09" y="842.21" width="5.6" height="87.79" fill="#c60000"/>
<rect x="645.73" y="788.4" width="5.6" height="141.6" fill="#a6a6a6"/>
<rect x="645.73" y="802.84" width="5.6" height="127.16" fill="#f1c3c3"/>
<rect x="645.73" y="813.75" width="5.6" height="116.25" fill="#4a4a4c"/>
<rect x="645.73" y="838.53" width="5.6" height="91.47" fill="#c60000"/>
<rect x="660.36" y="788.4" width="5.6" height="141.6" fill="#a6a6a6"/>
<rect x="660.36" y="812.19" width="5.6" height="117.81" fill="#f1c3c3"/>
<rect x="660.36" y="826.92" width="5.6" height="103.08" fill="#4a4a4c"/>
<rect x="660.36" y="850.28" width="5.6" height="79.72" fill="#c60000"/>
<rect x="674.99" y="788.4" width="5.6" height="141.6" fill="#a6a6a6"/>
<rect x="674.99" y="800.29" width="5.6" height="129.71" fill="#f1c3c3"/>
<rect x="674.99" y="812.76" width="5.6" height="117.24" fill="#4a4a4c"/>
<rect x="674.99" y="840.93" width="5.6" height="89.07" fill="#c60000"/>
<rect x="689.62" y="788.4" width="5.6" height="141.6" fill="#a6a6a6"/>
<rect x="689.62" y="799.73" width="5.6" height="130.27" fill="#f1c3c3"/>
<rect x="689.62" y="812.19" width="5.6" height="117.81" fill="#4a4a4c"/>
<rect x="689.62" y="835.69" width="5.6" height="94.31" fill="#c60000"/>
<rect x="704.25" y="788.4" width="5.6" height="141.6" fill="#a6a6a6"/>
<rect x="704.25" y="802.56" width="5.6" height="127.44" fill="#f1c3c3"/>
<rect x="704.25" y="813.18" width="5.6" height="116.82" fill="#4a4a4c"/>
<rect x="704.25" y="839.94" width="5.6" height="90.06" fill="#c60000"/>
<rect x="718.88" y="788.4" width="5.6" height="141.6" fill="#a6a6a6"/>
<rect x="718.88" y="802.14" width="5.6" height="127.86" fill="#f1c3c3"/>
<rect x="718.88" y="812.19" width="5.6" height="117.81" fill="#4a4a4c"/>
<rect x="718.88" y="840.93" width="5.6" height="89.07" fill="#c60000"/>
<line x1="451" y1="788.4" x2="451" y2="930.5" stroke="#868686" stroke-width="1"/>
<line x1="451" y1="930" x2="729" y2="930" stroke="#868686" stroke-width="1"/>
<line x1="451" y1="788.4" x2="454" y2="788.4" stroke="#868686" stroke-width="1"/>
<text x="440.5" y="792" font-size="10" fill="#404040" text-anchor="end" font-weight="normal" >100%</text>
<line x1="451" y1="816.72" x2="454" y2="816.72" stroke="#868686" stroke-width="1"/>
<text x="440.5" y="820.32" font-size="10" fill="#404040" text-anchor="end" font-weight="normal" >80%</text>
<line x1="451" y1="845.04" x2="454" y2="845.04" stroke="#868686" stroke-width="1"/>
<text x="440.5" y="848.64" font-size="10" fill="#404040" text-anchor="end" font-weight="normal" >60%</text>
<line x1="451" y1="873.36" x2="454" y2="873.36" stroke="#868686" stroke-width="1"/>
<text x="440.5" y="876.96" font-size="10" fill="#404040" text-anchor="end" font-weight="normal" >40%</text>
<line x1="451" y1="901.68" x2="454" y2="901.68" stroke="#868686" stroke-width="1"/>
<text x="440.5" y="905.28" font-size="10" fill="#404040" text-anchor="end" font-weight="normal" >20%</text>
<line x1="451" y1="930" x2="454" y2="930" stroke="#868686" stroke-width="1"/>
<text x="440.5" y="933.6" font-size="10" fill="#404040" text-anchor="end" font-weight="normal" >0%</text>
<line x1="465.63" y1="927" x2="465.63" y2="930" stroke="#868686" stroke-width="1"/>
<line x1="480.26" y1="927" x2="480.26" y2="930" stroke="#868686" stroke-width="1"/>
<line x1="494.89" y1="927" x2="494.89" y2="930" stroke="#868686" stroke-width="1"/>
<line x1="509.53" y1="927" x2="509.53" y2="930" stroke="#868686" stroke-width="1"/>
<line x1="524.16" y1="927" x2="524.16" y2="930" stroke="#868686" stroke-width="1"/>
<line x1="538.79" y1="927" x2="538.79" y2="930" stroke="#868686" stroke-width="1"/>
<line x1="553.42" y1="927" x2="553.42" y2="930" stroke="#868686" stroke-width="1"/>
<line x1="568.05" y1="927" x2="568.05" y2="930" stroke="#868686" stroke-width="1"/>
<line x1="582.68" y1="927" x2="582.68" y2="930" stroke="#868686" stroke-width="1"/>
<line x1="597.32" y1="927" x2="597.32" y2="930" stroke="#868686" stroke-width="1"/>
<line x1="611.95" y1="927" x2="611.95" y2="930" stroke="#868686" stroke-width="1"/>
<line x1="626.58" y1="927" x2="626.58" y2="930" stroke="#868686" stroke-width="1"/>
<line x1="641.21" y1="927" x2="641.21" y2="930" stroke="#868686" stroke-width="1"/>
<line x1="655.84" y1="927" x2="655.84" y2="930" stroke="#868686" stroke-width="1"/>
<line x1="670.47" y1="927" x2="670.47" y2="930" stroke="#868686" stroke-width="1"/>
<line x1="685.11" y1="927" x2="685.11" y2="930" stroke="#868686" stroke-width="1"/>
<line x1="699.74" y1="927" x2="699.74" y2="930" stroke="#868686" stroke-width="1"/>
<line x1="714.37" y1="927" x2="714.37" y2="930" stroke="#868686" stroke-width="1"/>
<line x1="729" y1="927" x2="729" y2="930" stroke="#868686" stroke-width="1"/>
<text x="0" y="0" font-size="10" fill="#404040" text-anchor="end" transform="translate(459.32,944.5) rotate(-45)">19Q1</text>
<text x="0" y="0" font-size="10" fill="#404040" text-anchor="end" transform="translate(488.58,944.5) rotate(-45)">19Q3</text>
<text x="0" y="0" font-size="10" fill="#404040" text-anchor="end" transform="translate(517.84,944.5) rotate(-45)">20Q1</text>
<text x="0" y="0" font-size="10" fill="#404040" text-anchor="end" transform="translate(547.11,944.5) rotate(-45)">20Q3</text>
<text x="0" y="0" font-size="10" fill="#404040" text-anchor="end" transform="translate(576.37,944.5) rotate(-45)">21Q1</text>
<text x="0" y="0" font-size="10" fill="#404040" text-anchor="end" transform="translate(605.63,944.5) rotate(-45)">21Q3</text>
<text x="0" y="0" font-size="10" fill="#404040" text-anchor="end" transform="translate(634.89,944.5) rotate(-45)">22Q1</text>
<text x="0" y="0" font-size="10" fill="#404040" text-anchor="end" transform="translate(664.16,944.5) rotate(-45)">22Q3</text>
<text x="0" y="0" font-size="10" fill="#404040" text-anchor="end" transform="translate(693.42,944.5) rotate(-45)">23Q1</text>
<text x="0" y="0" font-size="10" fill="#404040" text-anchor="end" transform="translate(722.68,944.5) rotate(-45)">23Q3</text>
<rect x="469.9" y="771.2" width="4.6" height="4.6" fill="#c60000"/>
<text x="477.1" y="776.9" font-size="9.5" fill="#404040" text-anchor="start" font-weight="normal" >会员服务</text>
<rect x="526.5" y="771.2" width="4.6" height="4.6" fill="#4a4a4c"/>
<text x="533.7" y="776.9" font-size="9.5" fill="#404040" text-anchor="start" font-weight="normal" >网络广告</text>
<rect x="583.1" y="771.2" width="4.6" height="4.6" fill="#f1c3c3"/>
<text x="590.3" y="776.9" font-size="9.5" fill="#404040" text-anchor="start" font-weight="normal" >内容发行</text>
<rect x="639.7" y="771.2" width="4.6" height="4.6" fill="#a6a6a6"/>
<text x="646.9" y="776.9" font-size="9.5" fill="#404040" text-anchor="start" font-weight="normal" >其他业务</text>
</svg>

<div class="p l" style="top:1005.80px;left:73.5px;width:450px"><b>盈利拐点已现<span class="rq">，</span>连续 <span class="n">7</span> 个季度&nbsp;<span style="margin-left:3.5px"></span> <span class="n">Non-GAAP</span> 归母净利润为正<span class="rq">。</span></b>年度维度来看，</div>
<div class="p" style="top:1030.10px;left:48px;width:475.5px">公司已于 <span class="n">2022</span> 年实现 <span class="n">Non-GAAP</span> 归母净利润为正，主要得益于内容成本和效率</div>

<div class="foot-line"></div>
<div class="foot" style="left:48px">本公司具备证券投资咨询业务资格，请务必阅读最后一页免责声明</div>
<div class="foot" style="left:622.5px">证券研究报告</div>
<div class="foot" style="left:738.5px;font-weight:bold">6</div>
</body>
</html>
